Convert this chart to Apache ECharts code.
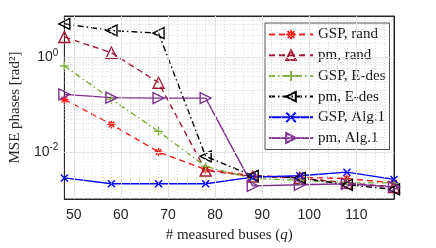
<!DOCTYPE html>
<html><head><meta charset="utf-8">
<script src="https://cdn.jsdelivr.net/npm/echarts@6/dist/echarts.min.js"></script>
<style>html,body{margin:0;padding:0;background:#fff}#c{width:436px;height:248px}</style>
</head><body><div id="c"></div>
<script>
// ---- data ----
const q = [48, 58, 68, 78, 88, 98, 108, 118];
const gspRand = [0.128, 0.038, 0.0099, 0.0042, 0.0031, 0.0029, 0.0027, 0.0022];
const pmRand  = [2.7, 1.25, 0.29, 0.0040, 0.0030, 0.0028, 0.0022, 0.0018];
const gspEdes = [0.66, 0.13, 0.027, 0.0049, 0.0027, 0.0025, 0.0022, 0.0022];
const pmEdes  = [5.1, 3.7, 3.25, 0.0080, 0.0031, 0.0028, 0.0020, 0.0016];
const gspAlg  = [0.0028, 0.0021, 0.0021, 0.0021, 0.0029, 0.0031, 0.0037, 0.0026];
const pmAlg   = [0.164, 0.14, 0.137, 0.137, 0.0019, 0.0020, 0.0021, 0.0018];
const names = ['GSP, rand', 'pm, rand', 'GSP, E-des', 'pm, E-des', 'GSP, Alg.1', 'pm, Alg.1'];
const xTicks = [50, 60, 70, 80, 90, 100, 110];
const xMinor = [50, 52, 54, 56, 58, 60, 62, 64, 66, 68, 70, 72, 74, 76, 78, 80, 82, 84, 86, 88, 90, 92, 94, 96, 98, 100, 102, 104, 106, 108, 110, 112, 114, 116];
const yTicks = [0.01, 1];
const yMinor = [0.002, 0.003, 0.004, 0.005, 0.006, 0.007, 0.008, 0.009, 0.02, 0.03, 0.04, 0.05, 0.06, 0.07, 0.08, 0.09, 0.1, 0.2, 0.3, 0.4, 0.5, 0.6, 0.7, 0.8, 0.9, 2, 3, 4, 5, 6, 7];

const SYM = {
  ast: 'path://M5,0L5,10M0,5L10,5M1.5,1.5L8.5,8.5M1.5,8.5L8.5,1.5',
  tri: 'path://M5,0L10,9L0,9Z',
  plus: 'path://M5,0L5,10M0,5L10,5',
  left: 'path://M0,5L9,0L9,10Z',
  cross: 'path://M0,0L10,10M0,10L10,0',
  right: 'path://M9,5L0,0L0,10Z'
};
const dashdot = [6, 3, 1.5, 3];
function mk(name, data, color, sym, size, ltype) {
  return {
    name: name, type: 'line', z: 3,
    data: q.map((x, i) => [x, data[i]]),
    symbol: sym, symbolSize: size, showSymbol: true,
    lineStyle: { color: color, width: 1.4, type: ltype },
    itemStyle: { color: 'rgba(0,0,0,0)', borderColor: color, borderWidth: 1.4 },
    emphasis: { disabled: true }, animation: false
  };
}
const gridLines = [];
xMinor.forEach(v => gridLines.push({ xAxis: v, lineStyle: { color: '#cfcfcf', type: [1, 2], width: 0.8 } }));
yMinor.forEach(v => gridLines.push({ yAxis: v, lineStyle: { color: '#cfcfcf', type: [1, 2], width: 0.8 } }));
xTicks.forEach(v => gridLines.push({ xAxis: v, lineStyle: { color: '#e2e2e2', type: 'solid', width: 1 } }));
yTicks.forEach(v => gridLines.push({ yAxis: v, lineStyle: { color: '#e2e2e2', type: 'solid', width: 1 } }));

const serif = 'Liberation Serif';
const sans = 'Liberation Sans';
const tickStyle = { inside: true, length: 4, lineStyle: { color: '#262626' } };
const chart = echarts.init(document.getElementById('c'), null, { renderer: 'canvas' });
chart.setOption({
  animation: false,
  grid: { left: 57, right: 42, top: 16, bottom: 49, show: true, borderColor: '#262626', borderWidth: 1, backgroundColor: '#fff' },
  legend: {
    data: names, orient: 'vertical', left: 265, top: 23,
    padding: [4, 4, 4, 3], itemWidth: 44, itemHeight: 12, itemGap: 5.7,
    backgroundColor: '#fff', borderColor: '#262626', borderWidth: 0.8,
    textStyle: { fontFamily: serif, fontSize: 15, color: '#111' }
  },
  xAxis: [{
    type: 'value', min: 48, max: 118,
    axisLine: { lineStyle: { color: '#262626' } },
    axisTick: Object.assign({ customValues: xTicks }, tickStyle),
    axisLabel: { customValues: xTicks, fontFamily: sans, fontSize: 14, color: '#262626', margin: 9 },
    splitLine: { show: false },
    name: '# measured buses ({i|q})', nameLocation: 'middle', nameGap: 29,
    nameTextStyle: { fontFamily: serif, fontSize: 15, color: '#262626', rich: { i: { fontFamily: serif, fontStyle: 'italic', fontSize: 15 } } }
  }, {
    type: 'value', min: 48, max: 118, position: 'top',
    axisLine: { show: true, lineStyle: { color: '#262626' } },
    axisTick: Object.assign({ customValues: xTicks }, tickStyle),
    axisLabel: { show: false }, splitLine: { show: false }
  }],
  yAxis: [{
    type: 'log', logBase: 10, min: 0.001, max: 7.5,
    axisLine: { lineStyle: { color: '#262626' } },
    axisTick: Object.assign({ customValues: yTicks }, tickStyle),
    axisLabel: {
      customValues: yTicks, color: '#262626', margin: 6,
      formatter: v => '{b|10}{s|' + Math.round(Math.log10(v)) + '}',
      rich: { b: { fontFamily: sans, fontSize: 14, color: '#262626' }, s: { fontFamily: sans, fontSize: 10, color: '#262626', padding: [0, 0, 9, 0] } }
    },
    splitLine: { show: false },
    name: 'MSE phases [rad²]', nameLocation: 'middle', nameGap: 36,
    nameTextStyle: { fontFamily: serif, fontSize: 15, color: '#262626' }
  }, {
    type: 'log', logBase: 10, min: 0.001, max: 7.5, position: 'right',
    axisLine: { show: true, lineStyle: { color: '#262626' } },
    axisTick: Object.assign({ customValues: yTicks }, tickStyle),
    axisLabel: { show: false }, splitLine: { show: false }
  }],
  series: [
    { type: 'line', z: 1, data: [], silent: true,
      markLine: { silent: true, symbol: 'none', label: { show: false }, animation: false, data: gridLines } },
    mk(names[0], gspRand, '#ff1a1a', SYM.ast, 8, [6, 4]),
    mk(names[1], pmRand, '#a2142f', SYM.tri, 11, [6, 4]),
    mk(names[2], gspEdes, '#77ac30', SYM.plus, 9, dashdot),
    mk(names[3], pmEdes, '#000000', SYM.left, 11, dashdot),
    mk(names[4], gspAlg, '#0000ff', SYM.cross, 7, 'solid'),
    mk(names[5], pmAlg, '#7e2f8e', SYM.right, 11, 'solid')
  ]
});
</script></body></html>
